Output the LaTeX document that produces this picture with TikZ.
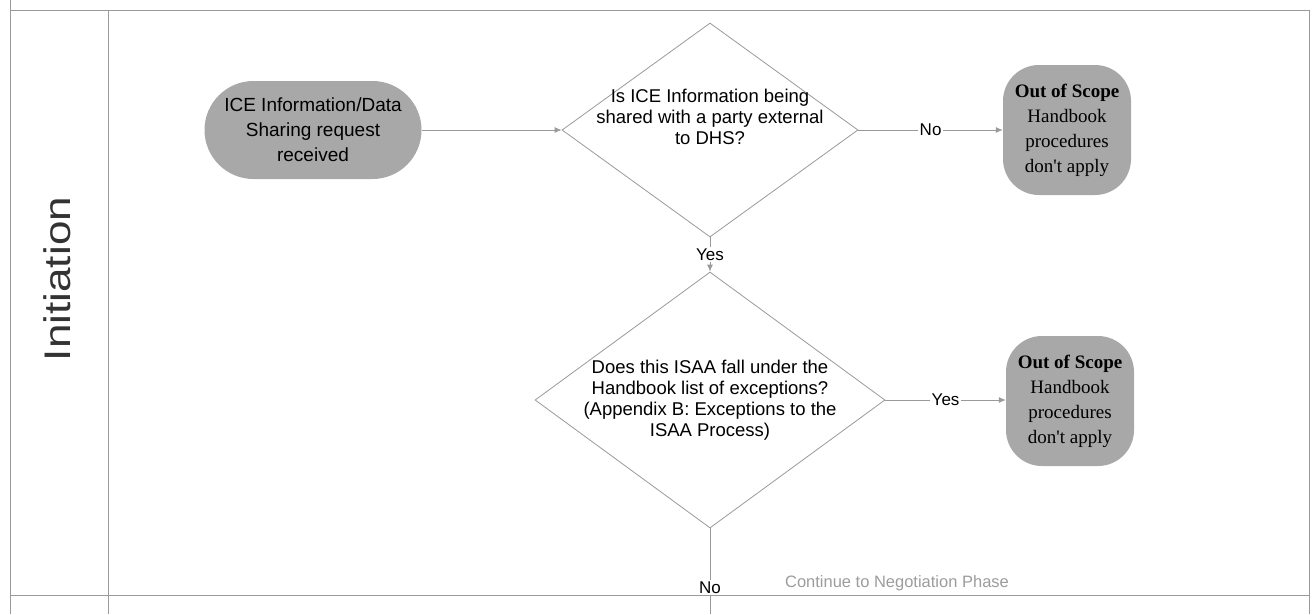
\documentclass[tikz,border=0pt]{standalone}
\usepackage{fontspec}
\setmainfont{Liberation Sans}
\newfontfamily\serifout{Liberation Serif}
\usetikzlibrary{shapes.geometric,arrows.meta}
\definecolor{ln}{HTML}{9A9A9A}
\definecolor{nodefill}{HTML}{A8A8A8}
\definecolor{contgray}{HTML}{9C9C9C}
\begin{document}
\begin{tikzpicture}[x=1pt,y=-1pt,
  frame/.style={draw=ln, line width=0.8pt},
  conn/.style={draw=ln, line width=0.8pt, -{Latex[length=7pt,width=6pt]}},
  plainconn/.style={draw=ln, line width=0.8pt},
  term/.style={rectangle, rounded corners=49pt, fill=nodefill, minimum width=217pt, minimum height=98pt, align=center, inner sep=0pt, font=\fontsize{19}{25}\selectfont},
  outbox/.style={rectangle, rounded corners=36pt, fill=nodefill, minimum width=128pt, minimum height=130pt, align=center, inner sep=0pt, font=\serifout\fontsize{19}{25}\selectfont},
  decision/.style={diamond, draw=ln, line width=0.8pt, fill=white, inner sep=0pt},
  dtext/.style={align=center, inner sep=0pt, font=\fontsize{18.5}{21}\selectfont},
  elabel/.style={fill=white, inner sep=1.5pt, font=\fontsize{17}{19}\selectfont}]
\useasboundingbox (0,0) rectangle (1312,614);

% swimlane frame
\draw[frame] (10,0) -- (10,614);
\draw[frame] (108,10) -- (108,614);
\draw[frame] (1309,10) -- (1309,614);
\draw[frame] (10,10) -- (1309,10);
\draw[frame] (10,595) -- (1309,595);
\node[rotate=90, text=black!80, font=\fontsize{37}{40}\selectfont] (lane) at (57,279) {\scalebox{1.19}[1]{Initiation}};

% nodes
\node[term] (start) at (313,130) {ICE Information/Data\\Sharing request\\received};
\node[decision, minimum width=296pt, minimum height=214pt] (d1) at (710,130) {};
\node[dtext] (d1t) at (710,117) {Is ICE Information being\\shared with a party external\\to DHS?};
\node[outbox] (out1) at (1067,130) {\textbf{Out of Scope}\\Handbook\\procedures\\don't apply};
\node[decision, minimum width=350pt, minimum height=256pt] (d2) at (710,400) {};
\node[dtext] (d2t) at (710,400) {Does this ISAA fall under the\\Handbook list of exceptions?\\(Appendix B: Exceptions to the\\ISAA Process)};
\node[outbox] (out2) at (1070,401) {\textbf{Out of Scope}\\Handbook\\procedures\\don't apply};
\coordinate (exit) at (710,614);
\node[text=contgray, font=\fontsize{16.5}{18}\selectfont] (cont) at (897,583) {Continue to Negotiation Phase};

% connectors
\draw[conn] (start.east) -- (d1.west);
\draw[conn] (d1.east) -- node[elabel] {No} (d1.east -| out1.west);
\draw[conn] (d1.south) -- node[elabel] {Yes} (d2.north);
\draw[conn] (d2.east) -- node[elabel] {Yes} (d2.east -| out2.west);
\draw[plainconn] (d2.south) -- node[elabel, pos=0.69] {No} (exit);
\end{tikzpicture}
\end{document}
